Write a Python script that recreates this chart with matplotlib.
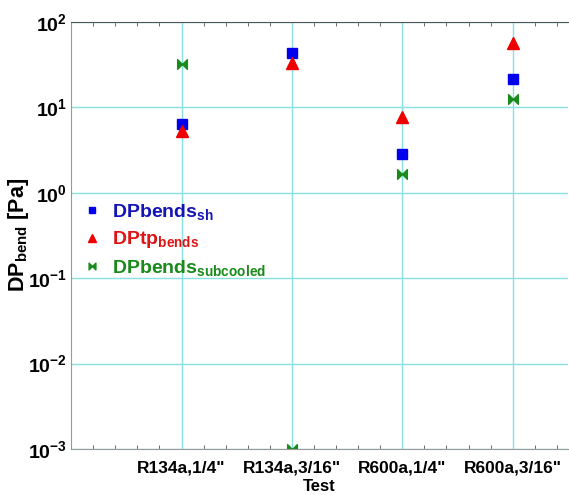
import numpy as np
import matplotlib
matplotlib.use('Agg')
import matplotlib.pyplot as plt
from matplotlib.path import Path
from matplotlib.ticker import MultipleLocator, LogLocator, NullLocator

tests = ['R134a,1/4"', 'R134a,3/16"', 'R600a,1/4"', 'R600a,3/16"']
dp_sh = [6.4, 43.0, 2.85, 21.5]
dp_tp = [5.3, 33.0, 7.7, 57.0]
dp_sub = [32.0, 1e-3, 1.66, 12.6]

# bowtie marker
bowtie = Path([(-1, -1), (-1, 1), (0, 0), (1, 1), (1, -1), (0, 0), (-1, -1)],
              [Path.MOVETO] + [Path.LINETO] * 5 + [Path.CLOSEPOLY])

plt.rcParams['font.family'] = ['Liberation Sans', 'DejaVu Sans']
plt.rcParams['font.weight'] = 'bold'
plt.rcParams['mathtext.fontset'] = 'custom'
plt.rcParams['mathtext.rm'] = 'Liberation Sans:bold'
plt.rcParams['mathtext.bf'] = 'Liberation Sans:bold'
plt.rcParams['mathtext.it'] = 'Liberation Sans:bold'
plt.rcParams['mathtext.default'] = 'bf'

fig = plt.figure(figsize=(5.69, 4.95), dpi=100)
ax = fig.add_axes([0.125, 0.093, 0.873, 0.863])

x = np.arange(1, len(tests) + 1)
ax.plot(x, dp_sh, 's', color='#0000ee', ms=7, label=r'DPbends$_{\mathbf{sh}}$')
ax.plot(x, dp_tp, '^', color='#ee0000', ms=8, label=r'DPtp$_{\mathbf{bends}}$')
ax.plot(x, dp_sub, marker=bowtie, ls='none', color='#1a8a1a', ms=7,
        label=r'DPbends$_{\mathbf{subcooled}}$')

ax.set_yscale('log')
ax.set_ylim(1e-3, 1e2)
ax.set_xlim(0, 4.5)
ax.set_xticks(x)
ax.set_xticklabels(tests, fontsize=12.5, fontweight='bold')
ax.xaxis.set_minor_locator(MultipleLocator(0.2))
ax.yaxis.set_major_locator(LogLocator(base=10, numticks=10))
ax.yaxis.set_minor_locator(NullLocator())
ax.tick_params(axis='y', which='major', labelsize=14, length=0, pad=3)
ax.tick_params(axis='x', which='major', length=0, pad=8)
ax.tick_params(axis='x', which='minor', direction='in', length=3, top=True, bottom=True, color='#555555')

ax.grid(True, which='major', color='#88e0e0', lw=1)
ax.set_axisbelow(True)
for s in ['left', 'bottom']:
    ax.spines[s].set_color('#999999')
ax.spines['top'].set_color('#555555')
ax.spines['right'].set_visible(False)

ax.set_xlabel('Test', fontsize=12, fontweight='bold', labelpad=2.5)
ax.set_ylabel(r'DP$_{\mathbf{bend}}$ [Pa]', fontsize=15.5, fontweight='bold', labelpad=-2.5)

leg = ax.legend(loc='upper left', bbox_to_anchor=(-0.012, 0.62), frameon=False,
                fontsize=14, handlelength=1.0, handletextpad=0.5, labelspacing=0.4,
                markerscale=0.7)
for t, c in zip(leg.get_texts(), ['#1515b5', '#dd1515', '#1a8a1a']):
    t.set_color(c)
    t.set_fontweight('bold')

fig.savefig('out.png', dpi=100)
